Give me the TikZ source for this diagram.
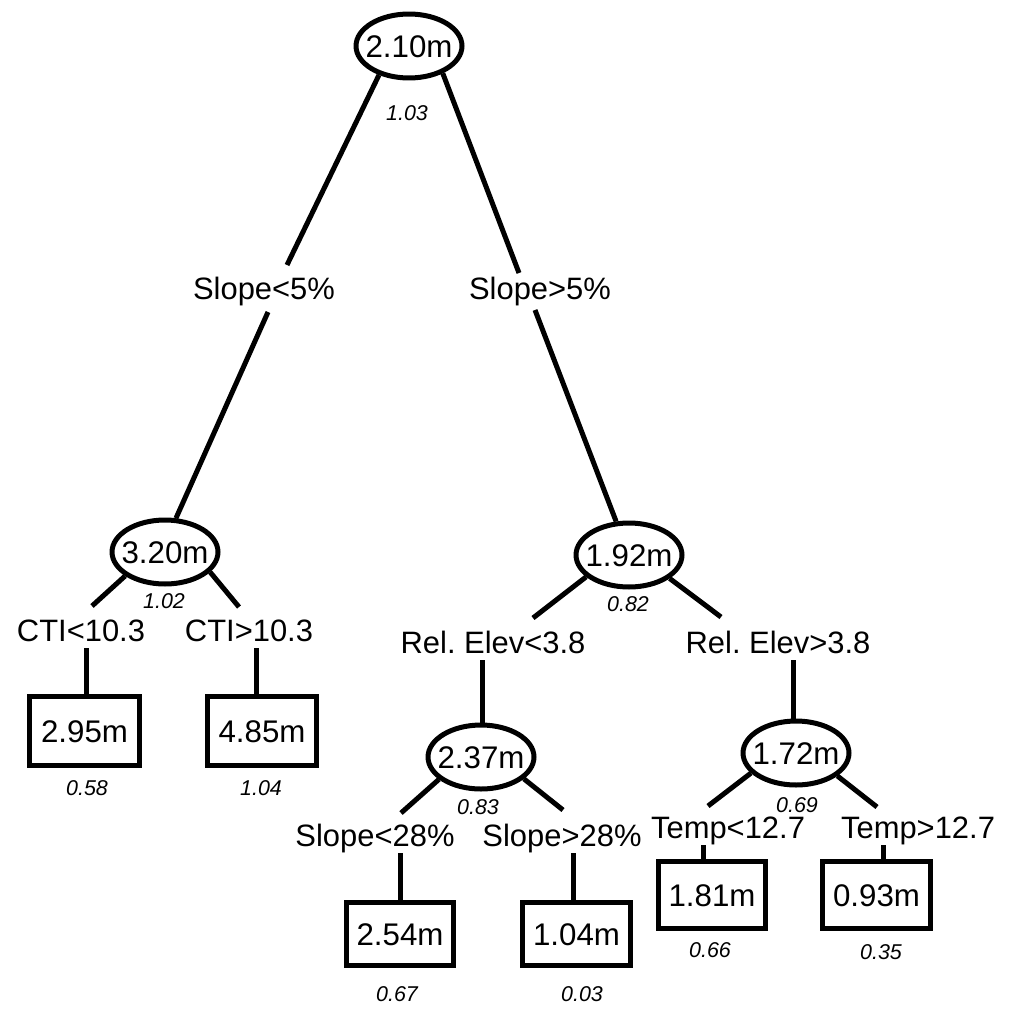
\documentclass[tikz,border=0pt]{standalone}
\usepackage{fontspec}
\setmainfont{Liberation Sans}
\frenchspacing
\usetikzlibrary{calc,shapes.geometric}
\tikzset{
  ln/.style={line width=0.1cm},
  ell/.style={ellipse, draw, ln, minimum width=2.12cm, minimum height=1.28cm, inner sep=0pt,
    text height=12.7pt, text depth=0pt, font=\fontsize{17.8}{20}\selectfont},
  leaf/.style={rectangle, draw, ln, inner sep=0pt, text height=12.7pt, text depth=0pt,
    font=\fontsize{17.8}{20}\selectfont},
  cond/.style={inner xsep=0pt, inner ysep=0.14cm, text height=12.6pt, text depth=0pt,
    font=\fontsize{17.6}{20}\selectfont},
  val/.style={inner sep=0pt, text height=8.7pt, text depth=0pt,
    font=\fontsize{12.2}{14}\selectfont\itshape}
}
\begin{document}
\begin{tikzpicture}[x=0.02cm, y=-0.02cm]
\useasboundingbox[fill=white] (0,0) rectangle (1020,1011);
% ellipses (internal nodes)
\node[ell] (root) at (409,46) {\makebox[0pt]{2.10m}};
\node[ell] (c320) at (165,552) {\makebox[0pt]{3.20m}};
\node[ell] (c192) at (629,555) {\makebox[0pt]{1.92m}};
\node[ell] (c237) at (481,757) {\makebox[0pt]{2.37m}};
\node[ell] (c172) at (796,753) {\makebox[0pt]{1.72m}};
% leaves
\node[leaf, minimum width=2.20cm, minimum height=1.38cm] (b295) at (84.5,731) {2.95m};
\node[leaf, minimum width=2.18cm, minimum height=1.38cm] (b485) at (262,731) {4.85m};
\node[leaf, minimum width=2.16cm, minimum height=1.26cm] (b254) at (400,934) {2.54m};
\node[leaf, minimum width=2.16cm, minimum height=1.26cm] (b104) at (576.5,934) {1.04m};
\node[leaf, minimum width=2.14cm, minimum height=1.34cm] (b181) at (712,895) {1.81m};
\node[leaf, minimum width=2.16cm, minimum height=1.34cm] (b093) at (876.5,895) {0.93m};
% split conditions
\node[cond] (slL) at (264,288) {Slope<5\%};
\node[cond] (slR) at (540,288) {Slope>5\%};
\node[cond] (ctiL) at (81,630) {CTI<10.3};
\node[cond] (ctiR) at (249,630) {CTI>10.3};
\node[cond] (relL) at (493,642) {Rel. Elev<3.8};
\node[cond] (relR) at (778,642) {Rel. Elev>3.8};
\node[cond] (sl28L) at (375,835) {Slope<28\%};
\node[cond] (sl28R) at (562,835) {Slope>28\%};
\node[cond] (tL) at (728,827) {Temp<12.7};
\node[cond] (tR) at (918,827) {Temp>12.7};
% values
\node[val] (v103) at (407,113) {1.03};
\node[val] (v102) at (164,601) {1.02};
\node[val] (v082) at (628,604) {0.82};
\node[val] (v083) at (478,807) {0.83};
\node[val] (v069) at (797,805) {0.69};
\node[val] (v058) at (87,788) {0.58};
\node[val] (v104) at (261,788) {1.04};
\node[val] (v067) at (397,994) {0.67};
\node[val] (v003) at (582,994) {0.03};
\node[val] (v066) at (710,950) {0.66};
\node[val] (v035) at (881,952) {0.35};
% connectors
\draw[ln] (root.224) -- ($(slL.center)+(23,-23)$);
\draw[ln] ($(slL.center)+(4,24)$) -- (c320.72.6);
\draw[ln] (root.321) -- ($(slR.center)+(-21,-15)$);
\draw[ln] ($(slR.center)+(-5,22)$) -- (c192.111.8);
\draw[ln] (c320.211.8) -- ($(ctiL.center)+(11,-24)$);
\draw[ln] (c320.336.4) -- ($(ctiR.center)+(-10,-23)$);
\draw[ln] ([xshift=0.03cm]b295.north |- ctiL.south) -- ([xshift=0.03cm]b295.north);
\draw[ln] ([xshift=-0.12cm]b485.north |- ctiR.south) -- ([xshift=-0.12cm]b485.north);
\draw[ln] (c192.207.6) -- ($(relL.center)+(40,-24)$);
\draw[ln] (c192.330.6) -- ($(relR.center)+(-57,-25)$);
\draw[ln] ([xshift=0.02cm]c237.north |- relL.south) -- ([xshift=0.02cm]c237.north);
\draw[ln] ([xshift=-0.06cm]c172.north |- relR.south) -- ([xshift=-0.06cm]c172.north);
\draw[ln] (c237.208.5) -- ($(sl28L.center)+(26,-22)$);
\draw[ln] (c237.333.4) -- ($(sl28R.center)+(1,-25)$);
\draw[ln] (b254.north |- sl28L.south) -- (b254.north);
\draw[ln] ([xshift=-0.07cm]b104.north |- sl28R.south) -- ([xshift=-0.07cm]b104.north);
\draw[ln] (c172.204.4) -- ($(tL.center)+(-20,-21)$);
\draw[ln] (c172.331.4) -- ($(tR.center)+(-41,-20)$);
\draw[ln] ([xshift=-0.18cm]b181.north |- tL.south) -- ([xshift=-0.18cm]b181.north);
\draw[ln] ([xshift=0.13cm]b093.north |- tR.south) -- ([xshift=0.13cm]b093.north);
\end{tikzpicture}
\end{document}
